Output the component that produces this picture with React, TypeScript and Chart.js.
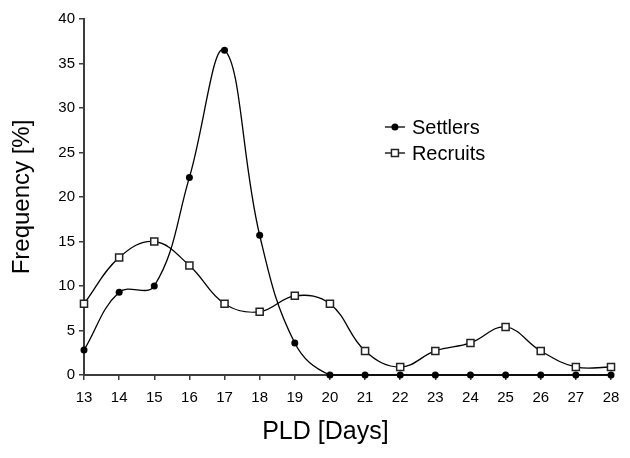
import React, { useEffect, useRef } from 'react';
import { Chart, registerables } from 'chart.js';

Chart.register(...registerables);

const days = ['13', '14', '15', '16', '17', '18', '19', '20', '21', '22', '23', '24', '25', '26', '27', '28'];
const settlers = [2.8, 9.3, 10.0, 22.2, 36.5, 15.7, 3.6, 0, 0, 0, 0, 0, 0, 0, 0, 0];
const recruits = [8.0, 13.2, 15.0, 12.3, 8.0, 7.1, 8.9, 8.0, 2.7, 0.9, 2.7, 3.6, 5.4, 2.7, 0.9, 0.9];
const seriesNames = ['Settlers', 'Recruits'];
const yMin = 0;
const yMax = 40;
const yStep = 5;
const xTitle = 'PLD [Days]';
const yTitle = 'Frequency [%]';

const FONT = "'Liberation Sans', Arial, sans-serif";
const AXIS_COLOR = '#3c3c3c';

const overlayPlugin = {
  id: 'overlay',
  afterDraw(chart: any) {
    const ctx = chart.ctx as CanvasRenderingContext2D;
    const area = chart.chartArea;
    ctx.save();
    // x-axis title
    ctx.fillStyle = '#000';
    ctx.font = `25px ${FONT}`;
    ctx.textAlign = 'center';
    ctx.textBaseline = 'middle';
    ctx.fillText(xTitle, area.left + (area.right - area.left) * 0.458, 432);
    // legend
    const lx = area.left + (area.right - area.left) * 0.59;
    chart.data.datasets.forEach((ds: any, i: number) => {
      const y = area.top + 108 + i * 26;
      ctx.strokeStyle = '#000';
      ctx.lineWidth = 1.3;
      ctx.beginPath();
      ctx.moveTo(lx - 10, y);
      ctx.lineTo(lx + 10, y);
      ctx.stroke();
      if (ds.pointStyle === 'rect') {
        ctx.fillStyle = '#fff';
        ctx.strokeStyle = ds.pointBorderColor;
        ctx.lineWidth = 1.5;
        ctx.fillRect(lx - 3.5, y - 3.5, 7, 7);
        ctx.strokeRect(lx - 3.5, y - 3.5, 7, 7);
      } else {
        ctx.fillStyle = ds.pointBackgroundColor;
        ctx.beginPath();
        ctx.arc(lx, y, 3.5, 0, Math.PI * 2);
        ctx.fill();
      }
      ctx.fillStyle = '#000';
      ctx.font = `20px ${FONT}`;
      ctx.textAlign = 'left';
      ctx.textBaseline = 'middle';
      ctx.fillText(ds.label, lx + 17, y + 1);
    });
    ctx.restore();
  },
};

export default function App() {
  const canvasRef = useRef<HTMLCanvasElement>(null);

  useEffect(() => {
    document.body.style.margin = '0';
    const canvas = canvasRef.current;
    if (!canvas) return;
    const chart = new Chart(canvas, {
      type: 'line',
      data: {
        labels: days,
        datasets: [
          {
            label: seriesNames[0],
            data: settlers,
            borderColor: '#000',
            borderWidth: 1.3,
            tension: 0.4,
            pointStyle: 'circle',
            pointRadius: 3.5,
            pointBackgroundColor: '#000',
            pointBorderColor: '#000',
            pointBorderWidth: 0,
            fill: false,
            clip: false,
          },
          {
            label: seriesNames[1],
            data: recruits,
            borderColor: '#000',
            borderWidth: 1.3,
            tension: 0.4,
            pointStyle: 'rect',
            pointRadius: 5,
            pointBackgroundColor: '#fff',
            pointBorderColor: '#222',
            pointBorderWidth: 1.5,
            fill: false,
            clip: false,
          },
        ],
      },
      options: {
        responsive: false,
        animation: false,
        devicePixelRatio: 1,
        layout: { padding: { top: 19, right: 19, left: 0, bottom: 0 } },
        plugins: {
          legend: { display: false },
          tooltip: { enabled: false },
        },
        scales: {
          x: {
            type: 'category',
            offset: false,
            grid: {
              display: true,
              drawOnChartArea: false,
              drawTicks: true,
              tickLength: 5,
              color: AXIS_COLOR,
              lineWidth: 1.5,
            },
            border: { display: true, color: AXIS_COLOR, width: 2 },
            ticks: {
              color: '#000',
              font: { family: FONT, size: 15 },
              padding: 9,
              maxRotation: 0,
              autoSkip: false,
            },
            afterFit: (scale: any) => {
              scale.height = 83;
            },
          },
          y: {
            min: yMin,
            max: yMax,
            ticks: {
              stepSize: yStep,
              color: '#000',
              font: { family: FONT, size: 15 },
              padding: 4,
            },
            grid: {
              display: true,
              drawOnChartArea: false,
              drawTicks: true,
              tickLength: 5,
              color: AXIS_COLOR,
              lineWidth: 1.5,
            },
            border: { display: true, color: AXIS_COLOR, width: 2 },
            title: {
              display: true,
              text: yTitle,
              color: '#000',
              font: { family: FONT, size: 24 },
              padding: { top: 8, bottom: 0 },
            },
            afterFit: (scale: any) => {
              scale.width = 84;
            },
          },
        },
      },
      plugins: [overlayPlugin],
    });
    return () => chart.destroy();
  }, []);

  return (
    <div style={{ width: 630, height: 458, position: 'relative' }}>
      <canvas ref={canvasRef} width={630} height={458} style={{ display: 'block' }} />
    </div>
  );
}
